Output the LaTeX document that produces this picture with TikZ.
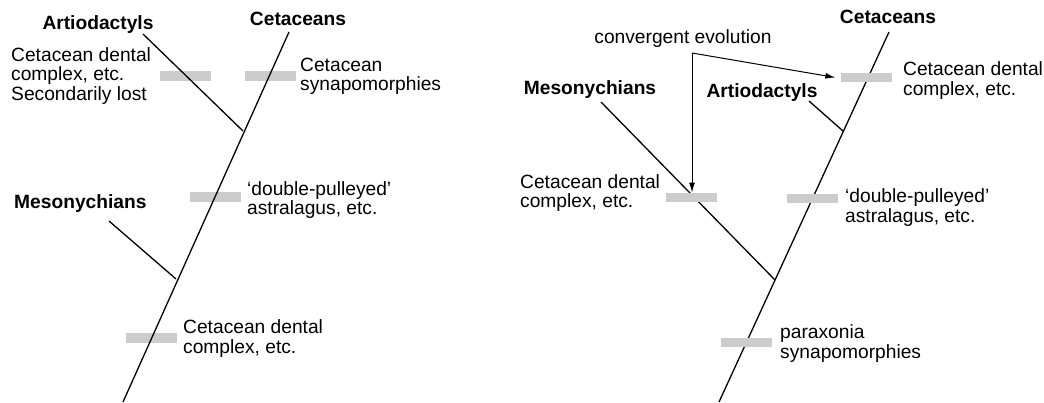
\documentclass[tikz,border=0pt]{standalone}
\usepackage{fontspec}
\setmainfont{Liberation Sans}
\usetikzlibrary{arrows.meta}

\begin{document}
\begin{tikzpicture}[x=1pt,y=-1pt,>={Latex[length=10pt,width=6pt]},
		font=\fontsize{19.2}{19.5}\selectfont,
		branch/.style={line width=1.3pt},
		bar/.style={fill=black!20,draw=none,minimum width=51pt,minimum height=9.5pt,inner sep=0pt},
		taxon/.style={font=\fontsize{19.2}{19.5}\selectfont\bfseries,inner sep=0pt},
		note/.style={anchor=west,align=left,inner sep=0pt}]
		\useasboundingbox (0,0) rectangle (1044,403);
		% left tree
		\coordinate (lroot) at (123,402);
		\coordinate (ltop) at (289,32);
		\coordinate (ljart) at (243,131);
		\coordinate (ljmes) at (176,279);
		\coordinate (lart) at (143,34);
		\coordinate (lmes) at (109,221);
		\node[bar] (lb1) at (185,76) {};
		\node[bar] (lb2) at (270,76) {};
		\node[bar] (lb3) at (215,197) {};
		\node[bar] (lb4) at (151,338) {};
		\draw[branch] (lroot) -- (ltop);
		\draw[branch] (ljart) -- (lart);
		\draw[branch] (ljmes) -- (lmes);
		\node[taxon] (lartname) at (98,25) {Artiodactyls};
		\node[taxon] (lcetname) at (298,19) {Cetaceans};
		\node[taxon,anchor=west] (lmesname) at (14,204) {Mesonychians};
		\node[note] (llost) at (11,76) {Cetacean dental\\complex, etc.\\Secondarily lost};
		\node[note] (lsyn) at (300,76.5) {Cetacean\\synapomorphies};
		\node[note] (ldp) at (247,200) {`double-pulleyed'\\astralagus, etc.};
		\node[note] (ldc) at (183,338.5) {Cetacean dental\\complex, etc.};
		% right tree
		\coordinate (rroot) at (719,402);
		\coordinate (rtop) at (889,32);
		\coordinate (rjmes) at (775,280);
		\coordinate (rjart) at (843,131);
		\coordinate (rmes) at (601,102);
		\coordinate (rart) at (809,101);
		\draw[branch] (rroot) -- (rtop);
		\draw[branch] (rjmes) -- (rmes);
		\draw[branch] (rjart) -- (rart);
		\node[bar] (rb1) at (866,77.5) {};
		\node[bar] (rb2) at (691,197.5) {};
		\node[bar] (rb3) at (812,198.5) {};
		\node[bar] (rb4) at (746,342.5) {};
		\node[taxon] (rcetname) at (888,17) {Cetaceans};
		\node[taxon] (rmesname) at (590,90) {Mesonychians};
		\node[taxon] (rartname) at (762,93) {Artiodactyls};
		\node[inner sep=0pt] (conv) at (683,39) {convergent evolution};
		\node[note] (rdc1) at (903,80.5) {Cetacean dental\\complex, etc.};
		\node[note] (rdc2) at (520,193) {Cetacean dental\\complex, etc.};
		\node[note] (rdp) at (845,207.5) {`double-pulleyed'\\astralagus, etc.};
		\node[note] (rpar) at (780,343.5) {paraxonia\\synapomorphies};
		% convergence arrows
		\coordinate (split) at (692,53);
		\draw[line width=1pt,->] (split) -- (split |- rb2.north);
		\draw[line width=1pt,->] (split) -- ([xshift=-5pt]rb1.west);
	\end{tikzpicture}
\end{document}
